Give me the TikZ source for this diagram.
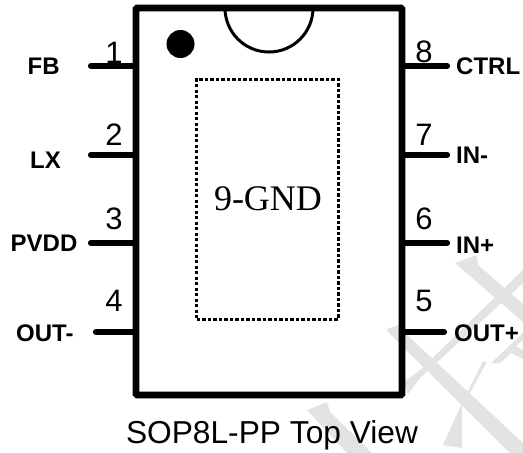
\documentclass[tikz,border=0pt]{standalone}
\usepackage{fontspec}
\setmainfont{Liberation Sans}
\newfontfamily\timesf{Liberation Serif}
\definecolor{wm}{HTML}{E3E3E3}
\tikzset{
  pinline/.style={line width=6.2pt,line cap=round},
  pinname/.style={inner sep=0pt,anchor=base west,font=\fontsize{24}{24}\selectfont\bfseries},
  pinnum/.style={inner sep=0pt,anchor=base,font=\fontsize{31}{31}\selectfont},
  chip/.style={draw,line width=6.6pt,rounded corners=1pt,minimum width=266pt,minimum height=387pt,inner sep=0pt},
  pad/.style={draw,line width=3pt,dash pattern=on 3.4pt off 2.1pt,minimum width=141.5pt,minimum height=240pt,inner sep=0pt},
  wmark/.style={fill=wm,draw=none}
}
\begin{document}
\begin{tikzpicture}[x=1pt,y=-1pt]
\useasboundingbox (0,0) rectangle (523,453);
% watermark
\fill[wmark] (387,329) -- (399,325) -- (404,332) -- (523,443) -- (523,453) -- (510,453) -- (387,331) -- cycle;
\fill[wmark] (404,382) -- (420,370) -- (523,270) -- (523,283) -- (420,378) -- (408,394) -- cycle;
\fill[wmark] (455,263) -- (477,255) -- (478,265) -- (523,304) -- (523,322) -- cycle;
\fill[wmark] (483,361) -- (487,362) -- (470,393) -- (462,405) -- (462,448) -- (443,445) -- (461,405) -- cycle;
\fill[wmark] (491,363) -- (500,363.5) -- (511,353) -- (523,359) -- (523,350) -- (516,346) -- (523,340) -- (523,333) -- (510,345) -- cycle;
\fill[wmark] (307,410) -- (327,402) -- (330,412) -- (372,453) -- (347,453) -- cycle;
% package
\node[chip] (body) at (269,201.5) {};
\node[pad] (gnd) at (267.5,199) {};
\node[font=\timesf\fontsize{36}{36}\selectfont,inner sep=0pt,anchor=base] (gndlabel) at (268,210) {9-GND};
\node[circle,fill=black,minimum size=28pt,inner sep=0pt] (dot) at (180.5,44) {};
\draw[line width=3pt] (225,8) arc[start angle=180,end angle=0,radius=44];
% pin ends
\coordinate (p1) at (91,66);
\coordinate (p2) at (91,155);
\coordinate (p3) at (91,243);
\coordinate (p4) at (96,332);
\coordinate (p8) at (447,66);
\coordinate (p7) at (447,155);
\coordinate (p6) at (447,243);
\coordinate (p5) at (444,332);
\foreach \p in {1,2,3,4}{\draw[pinline] (p\p) -- (p\p -| body.west);}
\foreach \p in {5,6,7,8}{\draw[pinline] (p\p) -- (p\p -| body.east);}
% pin numbers
\node[pinnum] (n1) at (114,63) {1};
\node[pinnum] (n2) at (114,145) {2};
\node[pinnum] (n3) at (114,229) {3};
\node[pinnum] (n4) at (114,311) {4};
\node[pinnum] (n8) at (424,62) {8};
\node[pinnum] (n7) at (424,145) {7};
\node[pinnum] (n6) at (424,229) {6};
\node[pinnum] (n5) at (424,311) {5};
% pin names
\node[pinname] (fb) at (27.5,74) {FB};
\node[pinname] (lx) at (30,168) {LX};
\node[pinname] (pvdd) at (10.5,251) {PVDD};
\node[pinname] (outm) at (16,341) {OUT-};
\node[pinname] (ctrl) at (456,74) {CTRL};
\node[pinname] (inm) at (456,163) {IN-};
\node[pinname] (inp) at (456,253) {IN+};
\node[pinname] (outp) at (454,341) {OUT+};
\node[inner sep=0pt,anchor=base,font=\fontsize{31.7}{32}\selectfont] (title) at (272,443) {SOP8L-PP Top View};
\end{tikzpicture}
\end{document}
